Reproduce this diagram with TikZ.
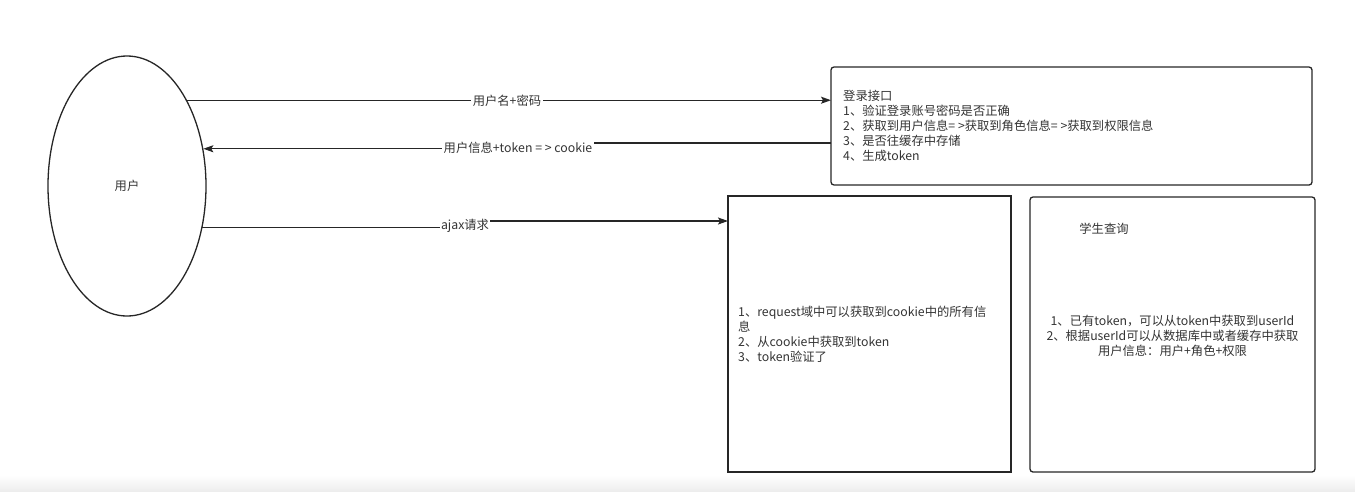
\documentclass[tikz,border=0pt]{standalone}
\usepackage{fontspec}
\setmainfont{Noto Sans CJK SC}
\usetikzlibrary{shapes.geometric,arrows.meta}
\begin{document}
\begin{tikzpicture}[x=1pt,y=-1pt,
  line/.style={draw=black!85,line width=1.3pt},
  arr/.style={line,-{Stealth[length=10pt,width=7pt,inset=2pt]}},
  txt/.style={font=\fontsize{12.3}{15}\selectfont,text=black!80,inner sep=0pt},
  lbl/.style={txt,fill=white,inner sep=1.5pt},
  sbox/.style={line,anchor=north west,inner sep=0pt,outer sep=0pt},
  rbox/.style={sbox,rounded corners=3pt},
]
\useasboundingbox (0,0) rectangle (1355,491);
\shade[top color=white,bottom color=black!7] (0,475) rectangle (1355,491);

% user ellipse
\node[line,ellipse,minimum width=158pt,minimum height=260pt,inner sep=0pt] (user) at (127,186) {};
\node[txt] (userl) at (127,186) {用户};

% boxes
\node[rbox,minimum width=481pt,minimum height=118pt] (login) at (831,67) {};
\node[sbox,minimum width=283pt,minimum height=276pt] (verify) at (728,196) {};
\node[rbox,minimum width=285pt,minimum height=275pt] (query) at (1030,197) {};

% box texts
\node[txt,align=left,anchor=west] (logintext) at (843,126)
  {登录接口\\1、验证登录账号密码是否正确\\2、获取到用户信息= >获取到角色信息= >获取到权限信息\\3、是否往缓存中存储\\4、生成token};
\node[txt,align=left,anchor=west] (verifytext) at (738,334.5)
  {1、request域中可以获取到cookie中的所有信\\息\\2、从cookie中获取到token\\3、token验证了};
\node[txt] (qtitle) at (1104,229) {学生查询};
\node[txt,align=center] (querytext) at (1172.5,335.5)
  {1、已有token，可以从token中获取到userId\\2、根据userId可以从数据库中或者缓存中获取\\用户信息：用户+角色+权限};

% connectors
\draw[arr] (user.55) -- (login.west |- user.55);
\node[lbl] (l1) at (507,101) {用户名+密码};

\draw[arr] (login.west |- 0,143) -- (518,143) |- (user.26);
\node[lbl] (l2) at (518,148) {用户信息+token = > cookie};

\draw[arr] (user.-29) -| (465,221) -- (verify.west |- 0,221);
\node[lbl] (l3) at (465,226) {ajax请求};
\end{tikzpicture}
\end{document}
